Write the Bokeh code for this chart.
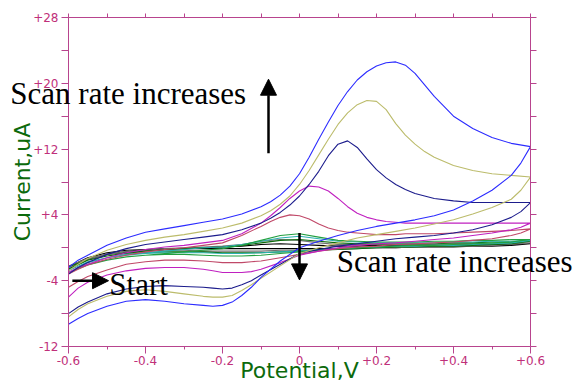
from bokeh.plotting import figure
from bokeh.models import Range1d, LinearAxis, FixedTicker, Arrow, NormalHead
from bokeh.core.properties import value
from bokeh.embed import file_html
from bokeh.resources import INLINE

# ---------------- data ----------------
# fine potential grids for the five large voltammograms
XF_BIG = [-0.6, -0.575, -0.55, -0.5, -0.45, -0.4, -0.35, -0.3, -0.25, -0.2, -0.15, -0.1,
          -0.075, -0.05, -0.025, 0.0, 0.025, 0.05, 0.075, 0.1, 0.125, 0.15, 0.175, 0.2,
          0.225, 0.25, 0.275, 0.3, 0.325, 0.35, 0.4, 0.45, 0.5, 0.55, 0.6]
XR_BIG = [0.6, 0.575, 0.55, 0.5, 0.45, 0.4, 0.35, 0.3, 0.25, 0.2, 0.15, 0.1, 0.05, 0.0,
          -0.05, -0.1, -0.125, -0.15, -0.175, -0.2, -0.225, -0.25, -0.3, -0.35, -0.4,
          -0.45, -0.5, -0.55, -0.575, -0.6]
# coarser grid for the small voltammograms
X_SMALL = [-0.6, -0.55, -0.5, -0.45, -0.4, -0.35, -0.3, -0.25, -0.2, -0.15, -0.1, -0.05,
           0.0, 0.05, 0.1, 0.15, 0.2, 0.25, 0.3, 0.35, 0.4, 0.45, 0.5, 0.55, 0.6]
X_SMALL_REV = X_SMALL[::-1]

blue_fwd = [-2.4, -1.5, -0.9, 0.3, 1.2, 1.9, 2.3, 2.7, 3.1, 3.5, 4.1, 5.0, 5.6, 6.4, 7.5,
            9.0, 11.0, 13.2, 15.3, 17.3, 19.0, 20.4, 21.4, 22.1, 22.5, 22.6, 22.2, 21.2,
            19.8, 18.4, 16.0, 14.5, 13.4, 12.7, 12.3]
blue_rev = [12.3, 10.3, 8.8, 7.0, 5.7, 4.6, 3.9, 3.4, 3.0, 2.6, 2.1, 1.5, 0.8, 0.0, -1.6,
            -3.6, -4.8, -5.8, -6.6, -7.0, -7.1, -7.0, -6.8, -6.5, -6.3, -6.5, -7.1, -8.0,
            -8.6, -9.3]

olive_fwd = [-2.8, -2.0, -1.3, -0.3, 0.4, 0.9, 1.3, 1.6, 2.0, 2.4, 3.0, 3.9, 4.5, 5.3, 6.3,
             7.7, 9.4, 11.3, 13.2, 15.0, 16.4, 17.4, 17.9, 17.8, 16.8, 15.1, 13.7, 12.6,
             11.7, 11.0, 10.0, 9.4, 9.0, 8.8, 8.6]
olive_rev = [8.6, 7.0, 5.9, 4.9, 4.1, 3.4, 2.9, 2.4, 2.0, 1.6, 1.2, 0.6, 0.0, -0.7, -2.2,
             -3.7, -4.5, -5.2, -5.8, -6.0, -6.0, -5.9, -5.6, -5.3, -5.1, -5.3, -5.9, -6.8,
             -7.5, -8.4]

navy_fwd = [-3.2, -2.4, -1.8, -0.8, -0.1, 0.4, 0.7, 1.0, 1.3, 1.6, 2.2, 3.0, 3.6, 4.3, 5.2,
            6.3, 7.7, 9.3, 11.2, 12.6, 13.0, 12.2, 10.8, 9.5, 8.5, 7.7, 7.1, 6.6, 6.3, 6.0,
            5.7, 5.5, 5.5, 5.5, 5.5]
navy_rev = [5.5, 4.4, 3.7, 2.8, 2.2, 1.8, 1.5, 1.3, 1.1, 0.8, 0.5, 0.2, -0.2, -0.7, -2.0,
            -3.3, -4.0, -4.5, -4.9, -5.0, -4.9, -4.8, -4.7, -4.6, -4.7, -5.0, -5.6, -6.6,
            -7.2, -8.0]

magenta_fwd = [-3.0, -2.4, -2.0, -1.2, -0.6, -0.2, 0.1, 0.3, 0.6, 0.9, 1.7, 3.0, 3.9, 4.9,
               6.0, 6.9, 7.5, 7.4, 6.9, 6.0, 5.0, 4.2, 3.7, 3.4, 3.2, 3.1, 3.0, 3.0, 3.0,
               3.0, 3.0, 3.0, 3.0, 3.0, 3.0]
magenta_rev = [3.0, 2.5, 2.2, 1.8, 1.5, 1.2, 1.0, 0.8, 0.6, 0.5, 0.3, 0.0, -0.4, -0.9, -1.8,
               -2.6, -2.9, -3.0, -3.0, -3.0, -2.8, -2.6, -2.4, -2.4, -2.5, -2.8, -3.3, -4.2,
               -4.9, -6.0]

brown_fwd = [-3.2, -2.6, -2.1, -1.4, -0.9, -0.5, -0.2, 0.0, 0.3, 0.6, 1.5, 2.6, 3.2, 3.7,
             4.0, 3.9, 3.5, 2.9, 2.4, 2.1, 1.9, 1.8, 1.7, 1.6, 1.6, 1.6, 1.7, 1.7, 1.7, 1.7,
             1.8, 1.9, 2.0, 2.1, 2.3]
brown_rev = [2.3, 1.8, 1.5, 1.1, 0.9, 0.7, 0.6, 0.5, 0.4, 0.2, 0.1, -0.1, -0.4, -0.8, -1.2,
             -1.6, -1.7, -1.8, -1.8, -1.8, -1.7, -1.6, -1.5, -1.5, -1.7, -2.0, -2.7, -3.5,
             -4.1, -4.8]

green_fwd = [-3.0, -2.0, -1.5, -1.1, -0.9, -0.7, -0.5, -0.3, -0.1, 0.3, 0.9, 1.5, 1.7, 1.3,
             0.9, 0.8, 0.7, 0.7, 0.7, 0.8, 0.8, 0.9, 0.9, 1.0, 1.0]
green_rev = [1.0, 0.7, 0.6, 0.5, 0.4, 0.3, 0.3, 0.2, 0.1, 0.0, -0.1, -0.3, -0.5, -0.7, -0.9,
             -1.0, -1.0, -0.9, -0.8, -0.8, -0.9, -1.1, -1.5, -2.1, -3.0]

teal_fwd = [-2.8, -1.7, -1.2, -0.8, -0.6, -0.4, -0.2, 0.0, 0.1, 0.4, 0.8, 1.2, 1.4, 1.1, 0.8,
            0.7, 0.6, 0.6, 0.6, 0.6, 0.7, 0.7, 0.8, 0.8, 0.9]
teal_rev = [0.9, 0.6, 0.5, 0.4, 0.3, 0.3, 0.2, 0.2, 0.1, 0.0, -0.1, -0.2, -0.4, -0.5, -0.6,
            -0.7, -0.7, -0.6, -0.6, -0.6, -0.7, -0.9, -1.2, -1.8, -2.7]

dkgreen_fwd = [-2.6, -1.5, -1.0, -0.6, -0.4, -0.2, -0.1, 0.0, 0.1, 0.3, 0.6, 0.9, 1.0, 0.8,
               0.6, 0.5, 0.5, 0.5, 0.5, 0.5, 0.6, 0.6, 0.7, 0.7, 0.8]
dkgreen_rev = [0.8, 0.5, 0.4, 0.3, 0.2, 0.2, 0.1, 0.1, 0.0, -0.1, -0.2, -0.3, -0.4, -0.5,
               -0.6, -0.6, -0.6, -0.5, -0.5, -0.5, -0.6, -0.7, -1.0, -1.5, -2.3]

gray_fwd = [-2.5, -1.4, -0.8, -0.5, -0.3, -0.1, 0.0, 0.1, 0.2, 0.4, 0.8, 1.0, 0.9, 0.6, 0.4,
            0.4, 0.4, 0.4, 0.4, 0.4, 0.5, 0.5, 0.5, 0.6, 0.6]
gray_rev = [0.6, 0.4, 0.3, 0.2, 0.2, 0.1, 0.1, 0.0, 0.0, -0.1, -0.2, -0.2, -0.3, -0.3, -0.4,
            -0.4, -0.4, -0.4, -0.3, -0.3, -0.4, -0.5, -0.8, -1.3, -2.2]

black_fwd = [-2.6, -1.4, -0.8, -0.5, -0.3, -0.2, -0.1, 0.0, 0.1, 0.2, 0.4, 0.5, 0.4, 0.3,
             0.2, 0.2, 0.3, 0.3, 0.3, 0.3, 0.3, 0.4, 0.4, 0.4, 0.5]
black_rev = [0.5, 0.3, 0.2, 0.2, 0.1, 0.1, 0.1, 0.0, 0.0, 0.0, -0.1, -0.1, -0.1, -0.1, -0.1,
             -0.1, -0.1, -0.1, -0.1, -0.1, -0.2, -0.3, -0.6, -1.2, -2.3]

# draw order: small curves first, largest on top
curves = [
    ("#000000", X_SMALL, black_fwd, X_SMALL_REV, black_rev),
    ("#707070", X_SMALL, gray_fwd, X_SMALL_REV, gray_rev),
    ("#0b6b0b", X_SMALL, dkgreen_fwd, X_SMALL_REV, dkgreen_rev),
    ("#2ab0b0", X_SMALL, teal_fwd, X_SMALL_REV, teal_rev),
    ("#22a040", X_SMALL, green_fwd, X_SMALL_REV, green_rev),
    ("#c04868", XF_BIG, brown_fwd, XR_BIG, brown_rev),
    ("#c020c0", XF_BIG, magenta_fwd, XR_BIG, magenta_rev),
    ("#1c1c8c", XF_BIG, navy_fwd, XR_BIG, navy_rev),
    ("#bcbc6c", XF_BIG, olive_fwd, XR_BIG, olive_rev),
    ("#2c2cff", XF_BIG, blue_fwd, XR_BIG, blue_rev),
]

X_MAJOR = [-0.6, -0.4, -0.2, 0.0, 0.2, 0.4, 0.6]
X_LABELS = ["-0.6", "-0.4", "-0.2", "0", "+0.2", "+0.4", "+0.6"]
X_MINOR = [-0.5, -0.3, -0.1, 0.1, 0.3, 0.5]
Y_MAJOR = [-12, -4, 4, 12, 20, 28]
Y_LABELS = ["-12", "-4", "+4", "+12", "+20", "+28"]
Y_MINOR = [-8, 0, 8, 16, 24]

AX = "#b8448e"
LAB = "#c0307a"
TITLE = "#0c6a0c"

p = figure(width=581, height=387, output_backend="svg", toolbar_location=None,
           x_range=Range1d(-0.6, 0.6), y_range=Range1d(-12, 28),
           min_border_left=68, min_border_right=51, min_border_top=17, min_border_bottom=41,
           x_axis_label="Potential,V", y_axis_label="Current,uA")
p.outline_line_color = None
p.xgrid.visible = False
p.ygrid.visible = False
p.background_fill_color = "white"
p.border_fill_color = "white"

for color, xf, yf, xr, yr in curves:
    p.line(xf + xr, yf + yr, line_color=color, line_width=1.1)

# bottom axis
xa = p.xaxis[0]
xa.ticker = FixedTicker(ticks=X_MAJOR, minor_ticks=X_MINOR)
xa.major_label_overrides = {v: s for v, s in zip(X_MAJOR, X_LABELS)}
# left axis
ya = p.yaxis[0]
ya.ticker = FixedTicker(ticks=Y_MAJOR, minor_ticks=Y_MINOR)
ya.major_label_overrides = {v: s for v, s in zip(Y_MAJOR, Y_LABELS)}

for ax in (xa, ya):
    ax.axis_line_color = AX
    ax.major_tick_line_color = AX
    ax.minor_tick_line_color = AX
    ax.major_tick_in = 0
    ax.minor_tick_in = 0
    ax.major_label_text_color = LAB
    ax.major_label_text_font = "DejaVu Sans"
    ax.major_label_text_font_size = "12px"
    ax.axis_label_text_color = TITLE
    ax.axis_label_text_font = "DejaVu Sans"
    ax.axis_label_text_font_size = "22px"
    ax.axis_label_text_font_style = "normal"

xa.major_tick_out = 7
xa.minor_tick_out = 3
xa.major_label_standoff = 2
xa.axis_label_standoff = -10
ya.major_tick_out = 7
ya.minor_tick_out = 7
ya.major_label_standoff = 3
ya.axis_label_standoff = -5

# top and right frame axes (ticks only, no labels)
top_ticks = X_MAJOR + X_MINOR
right_ticks = Y_MAJOR + Y_MINOR
top = LinearAxis(ticker=FixedTicker(ticks=top_ticks, minor_ticks=[]),
                 major_label_overrides={v: "" for v in top_ticks}, axis_line_color=AX,
                 major_tick_line_color=AX, major_tick_in=0, major_tick_out=4,
                 minor_tick_line_color=None, major_label_standoff=0)
right = LinearAxis(ticker=FixedTicker(ticks=right_ticks, minor_ticks=[]),
                   major_label_overrides={v: "" for v in right_ticks}, axis_line_color=AX,
                   major_tick_line_color=AX, major_tick_in=0, major_tick_out=6,
                   minor_tick_line_color=None, major_label_standoff=0)
p.add_layout(top, "above")
p.add_layout(right, "right")

# annotation texts (overlay level so they may extend past the frame)
TXT_X = [-0.751, 0.097, -0.494]
TXT_Y = [18.75, -1.65, -4.45]
TXT = ["Scan rate increases", "Scan rate increases", "Start"]
p.text(x=TXT_X, y=TXT_Y, text=TXT, text_font=value("Liberation Serif"),
       text_font_size="31px", text_color="black", text_baseline="alphabetic",
       text_align="left", level="overlay")

head = dict(size=16, fill_color="black", line_color="black")
p.add_layout(Arrow(end=NormalHead(**head), x_start=-0.0805, y_start=11.5,
                   x_end=-0.0805, y_end=20.5, line_width=2.5, line_color="black"))
p.add_layout(Arrow(end=NormalHead(**head), x_start=0.0, y_start=1.8,
                   x_end=0.0, y_end=-3.9, line_width=2.5, line_color="black"))
p.add_layout(Arrow(end=NormalHead(**head), x_start=-0.59, y_start=-4.0,
                   x_end=-0.496, y_end=-4.0, line_width=2.5, line_color="black"))

open("out.html", "w").write(file_html(p, INLINE))
